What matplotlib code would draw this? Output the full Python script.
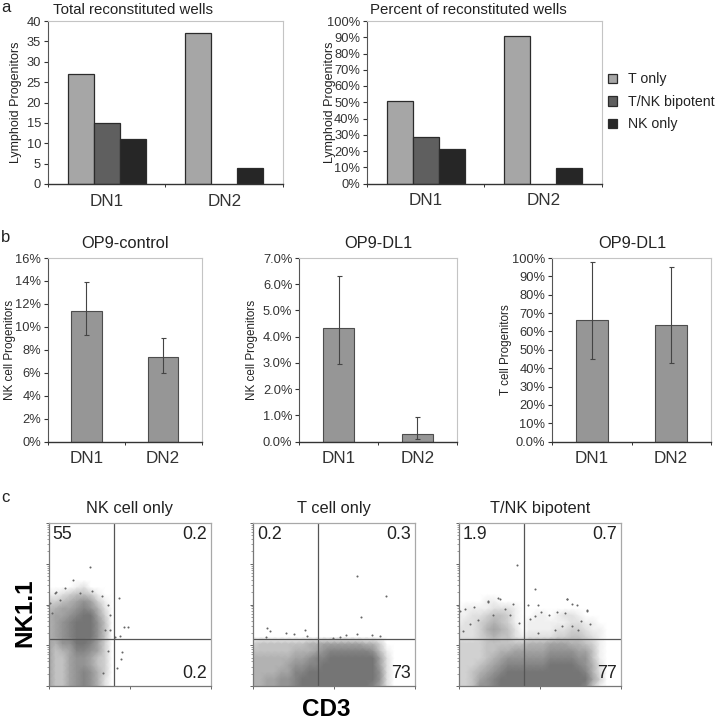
import numpy as np
from matplotlib import pyplot as plt
from matplotlib.colors import LinearSegmentedColormap

plt.rcParams['font.family'] = ['Liberation Sans', 'DejaVu Sans']
plt.rcParams['text.color'] = '#222222'
plt.rcParams['axes.labelcolor'] = '#222222'
plt.rcParams['xtick.color'] = '#333333'
plt.rcParams['ytick.color'] = '#333333'

W = 716
H = 720

# panel a
groups = ['DN1', 'DN2']
series_names = ['T only', 'T/NK bipotent', 'NK only']
series_colors = ['#a6a6a6', '#5f5f5f', '#262626']
total_wells = [[27, 37], [15, 0], [11, 4]]
percent_wells = [[51, 90.5], [28.5, 0], [21, 9.5]]
total_ticks = [0, 5, 10, 15, 20, 25, 30, 35, 40]
percent_ticks = [0, 10, 20, 30, 40, 50, 60, 70, 80, 90, 100]
percent_labels = ['0%', '10%', '20%', '30%', '40%', '50%', '60%', '70%', '80%', '90%', '100%']

# panel b
control_vals = [11.4, 7.4]
control_hi = [13.95, 9.05]
control_lo = [9.3, 6.0]
control_ticks = [0, 2, 4, 6, 8, 10, 12, 14, 16]
control_labels = ['0%', '2%', '4%', '6%', '8%', '10%', '12%', '14%', '16%']

dl1_nk_vals = [4.33, 0.3]
dl1_nk_hi = [6.33, 0.95]
dl1_nk_lo = [2.95, 0.1]
dl1_nk_ticks = [0, 1, 2, 3, 4, 5, 6, 7]
dl1_nk_labels = ['0.0%', '1.0%', '2.0%', '3.0%', '4.0%', '5.0%', '6.0%', '7.0%']

dl1_t_vals = [66, 63.7]
dl1_t_hi = [97.7, 95.3]
dl1_t_lo = [44.8, 43]
dl1_t_labels = ['0.0%', '10%', '20%', '30%', '40%', '50%', '60%', '70%', '80%', '90%', '100%']

# panel c, density of events read by eye, one string per row, bottom row first
# 0 = empty, 9 = solid. one column/row is 1/6 of a decade
density_nk = ['644678752', '644678752', '644678753', '644677643', '644677643',
              '645688763', '657799863', '567899974', '567899974', '567899974',
              '566789963', '456678752', '334567631', '112344310', '000012000']
density_t = ['55667789999999999862', '55667789999999999972', '55556688999999999972',
             '55555677889999999962', '55555566788999999962', '44444455567888888741',
             '344444445566666655300']
density_tnk = ['334778999999999999841', '334678999999999999963', '334567899999999999852',
               '333456788888899998752', '333345677777788887741', '333344556666677776641',
               '333344444455566655431', '222345442122223344321', '222356542011112233211',
               '122345431011111122110', '112234431001101221000', '011112221000000000000',
               '000011000000000000000']

# isolated events, in decades
sparse_nk_x = [1.02, 0.61, 0.40, 0.17, 1.74, 1.97, 1.87, 1.76, 1.80, 1.78, 1.68, 1.64, 1.51,
               0.16, 0.77, 1.06, 1.31, 1.47, 1.51, 1.39, 1.47, 1.35, 0.03, 0.28, 0.07]
sparse_nk_y = [2.92, 2.59, 2.40, 2.30, 2.17, 1.46, 1.46, 1.23, 0.83, 0.67, 0.43, 1.21, 1.38,
               2.29, 2.29, 2.33, 2.21, 2.00, 1.75, 1.38, 0.85, 0.31, 2.04, 2.12, 1.79]
sparse_t_x = [2.57, 3.27, 2.67, 0.35, 0.40, 0.81, 1.01, 1.28, 1.32, 2.55, 2.30, 2.14, 1.97, 2.92, 3.13, 0.31]
sparse_t_y = [2.69, 2.22, 1.70, 1.42, 1.36, 1.30, 1.27, 1.38, 1.23, 1.28, 1.24, 1.21, 1.19, 1.24, 1.23, 1.21]
sparse_tnk_x = [1.44, 1.88, 2.66, 1.94, 1.00, 0.71, 0.38, 0.02, 2.91, 3.15,
                0.72, 0.97, 1.34, 1.14, 0.85, 0.48, 0.15, 0.27, 0.11, 1.47, 1.26, 1.71, 1.88, 2.03,
                2.41, 2.66, 2.78, 3.15, 3.01, 3.24, 2.62, 2.21, 1.75, 2.78, 2.95, 2.37, 2.54, 1.96]
sparse_tnk_y = [2.98, 2.39, 2.14, 1.98, 2.14, 2.07, 1.95, 1.85, 1.99, 1.87,
                2.08, 2.15, 2.02, 1.88, 1.75, 1.63, 1.88, 1.51, 1.34, 1.55, 1.75, 2.00, 1.71, 1.81,
                1.81, 2.14, 2.02, 1.84, 1.59, 1.51, 1.79, 1.75, 1.65, 1.47, 1.38, 1.38, 1.47, 1.30]

gate_x = 40  # CD3 gate
gate_y = 14.3  # NK1.1 gate


def add_axes(x0, y0, x1, y1):
    # pixel box of the axes, y measured from the top of the image
    return fig.add_axes([x0 / W, 1 - y1 / H, (x1 - x0) / W, (y1 - y0) / H])


def put_text(x, y, s, **kw):
    fig.text(x / W, 1 - y / H, s, ha=kw.pop('ha', 'center'), va='center', **kw)


def style_bar_axes(ax, ticks, labels, ylabel, top, label_x, label_size):
    ax.set_xlim(0, 2)
    ax.set_ylim(0, top)
    ax.set_yticks(ticks)
    ax.set_yticklabels(labels, fontsize=9.3)
    ax.set_xticks([0, 1, 2])
    ax.set_xticklabels([])
    ax.set_xticks([0.5, 1.5], minor=True)
    ax.set_xticklabels(groups, minor=True, fontsize=12.3)
    ax.tick_params(axis='x', which='minor', length=0, pad=7)
    ax.tick_params(axis='x', which='major', length=2.5, width=0.7)
    ax.tick_params(axis='y', length=3, width=0.8, pad=2)
    ax.set_ylabel(ylabel, fontsize=label_size)
    # label_x = pixel centre of the label
    box = ax.get_position()
    ax.yaxis.set_label_coords((label_x + 8.5 - box.x0 * W) / (box.width * W), 0.5)
    ax.spines['top'].set_color('#c4c4c4')
    ax.spines['right'].set_color('#c4c4c4')
    ax.spines['left'].set_color('#555555')
    ax.spines['bottom'].set_color('#333333')
    for side in ['top', 'right']:
        ax.spines[side].set_linewidth(0.8)
    ax.spines['bottom'].set_linewidth(1.0)
    ax.spines['left'].set_linewidth(0.8)


def grouped_bars(ax, data):
    w = 0.222
    hs = []
    for k in range(3):
        keep = [i for i in range(2) if data[k][i] > 0]
        xs = [i + 0.5 + (k - 1) * w for i in keep]
        hs.append(ax.bar(xs, [data[k][i] for i in keep], w, color=series_colors[k],
                         edgecolor='#2b2b2b', linewidth=0.9, label=series_names[k]))
    return hs


def error_bars(ax, vals, hi, lo, ticks, labels, ylabel, label_x):
    xs = [0.5, 1.5]
    ax.bar(xs, vals, 0.4, color='#969696', edgecolor='#4d4d4d', linewidth=0.8)
    yerr = [[v - l for v, l in zip(vals, lo)], [h - v for v, h in zip(vals, hi)]]
    ax.errorbar(xs, vals, yerr=yerr, fmt='none', ecolor='#444444', elinewidth=0.8, capsize=1.8, capthick=0.8)
    style_bar_axes(ax, ticks, labels, ylabel, ticks[-1], label_x, 8.4)


def density_grid(rows):
    grid = np.zeros((24, 24))
    for j, row in enumerate(rows):
        for i, c in enumerate(row):
            grid[j, i] = int(c)
    return grid


def flow_panel(ax, rows, sx, sy, labels):
    nodes = 10 ** (np.arange(24) * 4 / 23)
    ax.pcolormesh(nodes, nodes, density_grid(rows), shading='gouraud', cmap=flow_cmap, vmin=0, vmax=9)
    ax.scatter(10 ** np.array(sx), 10 ** np.array(sy), s=2.2, color='#666666', linewidths=0)
    ax.set_xscale('log')
    ax.set_yscale('log')
    ax.set_xlim(1, 1e4)
    ax.set_ylim(1, 1e4)
    ax.axvline(gate_x, color='#555555', lw=0.9)
    ax.axhline(gate_y, color='#555555', lw=0.9)
    ax.tick_params(which='major', length=2.5, width=0.7, color='#666666')
    ax.tick_params(which='minor', length=1.3, width=0.5, color='#777777')
    ax.xaxis.set_tick_params(which='both', labelbottom=False)
    ax.yaxis.set_tick_params(which='both', labelleft=False)
    for s in ax.spines.values():
        s.set_color('#a8a8a8')
        s.set_linewidth(0.9)
    ax.spines['left'].set_color('#777777')
    ax.spines['bottom'].set_color('#777777')
    ax.text(0.025, 0.93, labels[0], transform=ax.transAxes, fontsize=12.8, ha='left', va='center')
    ax.text(0.975, 0.93, labels[1], transform=ax.transAxes, fontsize=12.8, ha='right', va='center')
    ax.text(0.975, 0.075, labels[2], transform=ax.transAxes, fontsize=12.8, ha='right', va='center')


fig = plt.figure(figsize=(W / 100, H / 100), dpi=100)
flow_cmap = LinearSegmentedColormap.from_list('flow', ['#ffffff', '#757575'])

# a
ax1 = add_axes(48, 21, 283, 184)
grouped_bars(ax1, total_wells)
style_bar_axes(ax1, total_ticks, [str(t) for t in total_ticks], 'Lymphoid Progenitors', 40, 14, 9.0)

ax2 = add_axes(367, 21, 602, 183.5)
grouped_bars(ax2, percent_wells)
style_bar_axes(ax2, percent_ticks, percent_labels, 'Lymphoid Progenitors', 100, 327, 9.0)
ax2.legend(loc='center left', bbox_to_anchor=(1.0255, 0.502), frameon=False, fontsize=10.2,
           handlelength=0.63, handleheight=0.63, handletextpad=0.77, labelspacing=0.6,
           borderpad=0, borderaxespad=0)

put_text(53, 10, 'Total reconstituted wells', ha='left', fontsize=10.8)
put_text(370, 10, 'Percent of reconstituted wells', ha='left', fontsize=10.8)

# b
ax3 = add_axes(48, 258, 201.5, 441.7)
error_bars(ax3, control_vals, control_hi, control_lo, control_ticks, control_labels, 'NK cell Progenitors', 8)
ax4 = add_axes(299.3, 258, 456.7, 441.7)
error_bars(ax4, dl1_nk_vals, dl1_nk_hi, dl1_nk_lo, dl1_nk_ticks, dl1_nk_labels, 'NK cell Progenitors', 249)
ax5 = add_axes(552.3, 258, 710.7, 441.7)
error_bars(ax5, dl1_t_vals, dl1_t_hi, dl1_t_lo, percent_ticks, dl1_t_labels, 'T cell Progenitors', 503)

put_text(125.5, 243.5, 'OP9-control', fontsize=11.8)
put_text(378, 243.5, 'OP9-DL1', fontsize=11.8)
put_text(632, 243.5, 'OP9-DL1', fontsize=11.8)

# c
ax6 = add_axes(48.7, 523, 210.7, 686)
flow_panel(ax6, density_nk, sparse_nk_x, sparse_nk_y, ['55', '0.2', '0.2'])
ax7 = add_axes(253.3, 523, 415.3, 686)
flow_panel(ax7, density_t, sparse_t_x, sparse_t_y, ['0.2', '0.3', '73'])
ax8 = add_axes(459, 523, 621, 686)
flow_panel(ax8, density_tnk, sparse_tnk_x, sparse_tnk_y, ['1.9', '0.7', '77'])

put_text(129, 508, 'NK cell only', fontsize=11.8)
put_text(334, 508, 'T cell only', fontsize=11.8)
put_text(540, 508, 'T/NK bipotent', fontsize=11.8)

put_text(25, 613, 'NK1.1', rotation=90, fontsize=17.5, fontweight='bold', color='black')
put_text(326, 710, 'CD3', fontsize=17.5, fontweight='bold', color='black')

put_text(1, 7, 'a', ha='left', fontsize=12)
put_text(1, 238, 'b', ha='left', fontsize=12)
put_text(1, 497, 'c', ha='left', fontsize=12)

fig.savefig('out.png', dpi=100)
